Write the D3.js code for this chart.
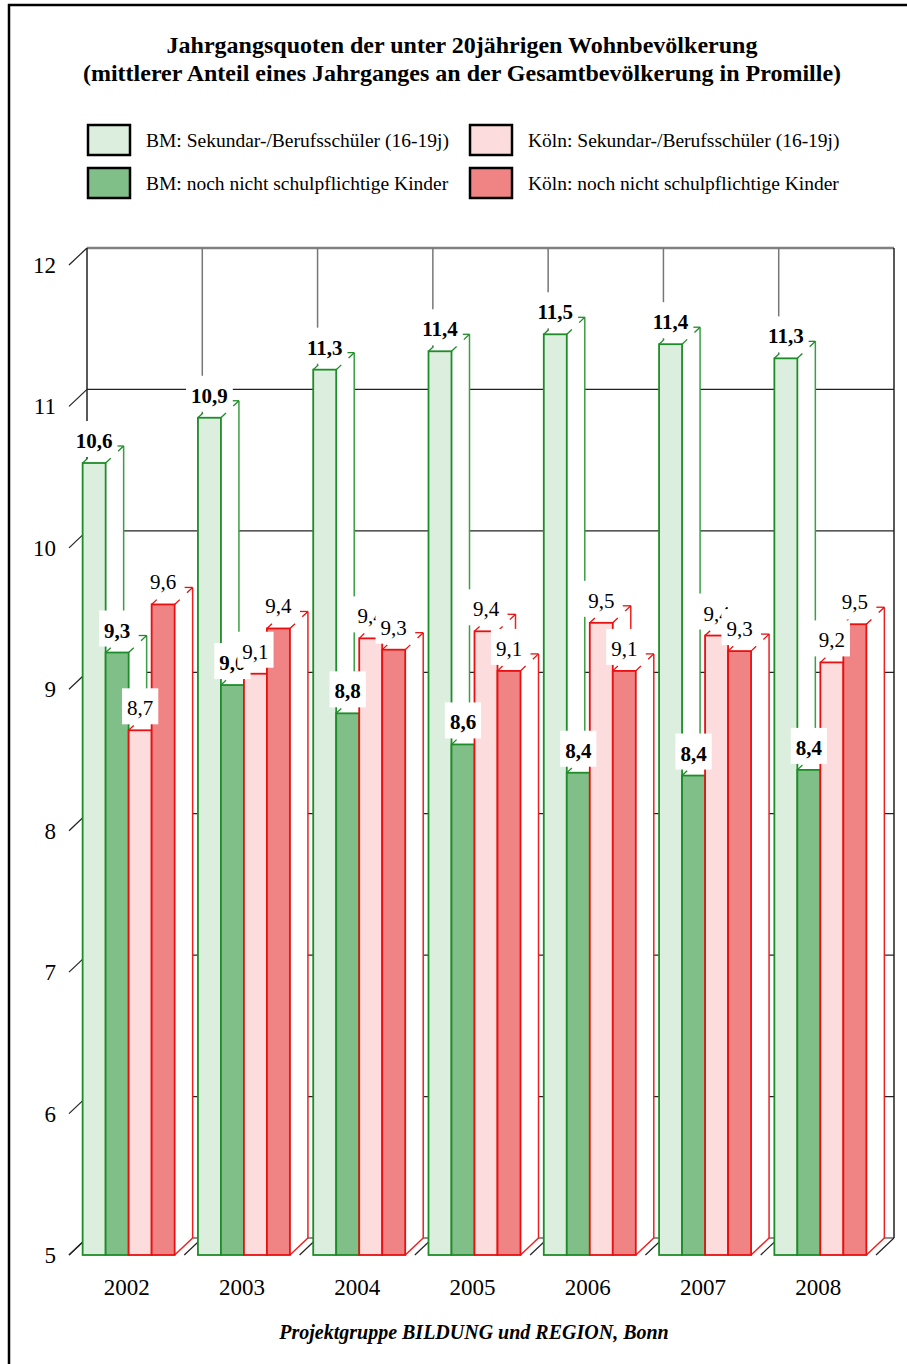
<!DOCTYPE html>
<html>
<head>
<meta charset="utf-8">
<script src="https://cdn.jsdelivr.net/npm/d3@7"></script>
<style>
  body { margin: 0; background: #fff; }
  svg { display: block; }
</style>
</head>
<body>
<div id="canvas"></div>
<script>
"use strict"

/* Data */
let years = ["2002", "2003", "2004", "2005", "2006", "2007", "2008"];
let bmSek = [10.60, 10.92, 11.26, 11.39, 11.51, 11.44, 11.34];
let bmKinder = [9.26, 9.03, 8.83, 8.61, 8.41, 8.39, 8.43];
let koelnSek = [8.71, 9.11, 9.36, 9.41, 9.47, 9.38, 9.19];
let koelnKinder = [9.60, 9.43, 9.28, 9.13, 9.13, 9.27, 9.46];
let seriesNames = [
    "BM: Sekundar-/Berufsschüler (16-19j)",
    "BM: noch nicht schulpflichtige Kinder",
    "Köln: Sekundar-/Berufsschüler (16-19j)",
    "Köln: noch nicht schulpflichtige Kinder"
];
let yTicks = [5, 6, 7, 8, 9, 10, 11, 12];

/* Configuration variables: drawing */
let svgWidth = 907;
let svgHeight = 1364;
let font = "'Liberation Serif', 'Times New Roman', serif";
let DX = 18, DY = -17;   // 3d depth offset

let series = [
    { name: seriesNames[0], values: bmSek, fill: "#dcefdf", stroke: "#1e8c28", side: "#3a9e44", bold: true },
    { name: seriesNames[1], values: bmKinder, fill: "#80c088", stroke: "#1e8c28", side: "#3a9e44", bold: true },
    { name: seriesNames[2], values: koelnSek, fill: "#fcdcdc", stroke: "#e81010", side: "#ee2020", bold: false },
    { name: seriesNames[3], values: koelnKinder, fill: "#f08484", stroke: "#e81010", side: "#ee2020", bold: false }
];

let svg = d3.select("#canvas")
    .append("svg")
    .attr("width", svgWidth)
    .attr("height", svgHeight);

/* outer frame (only left and top are in the picture) */
svg.append("rect")
    .attr("x", 9).attr("y", 5)
    .attr("width", 1000).attr("height", 1500)
    .attr("fill", "none")
    .attr("stroke", "black")
    .attr("stroke-width", 2.5);

/* title */
let title = svg.append("text")
    .attr("text-anchor", "middle")
    .attr("font-family", font)
    .attr("font-weight", "bold")
    .attr("font-size", 24);
title.append("tspan").attr("x", 462).attr("y", 53)
    .text("Jahrgangsquoten der unter 20jährigen Wohnbevölkerung");
title.append("tspan").attr("x", 462).attr("y", 81)
    .text("(mittlerer Anteil eines Jahrganges an der Gesamtbevölkerung in Promille)");

/* legend */
let legendPos = [[88, 125], [88, 168], [470, 125], [470, 168]];
series.forEach(function (s, i) {
    let p = legendPos[i];
    svg.append("rect")
        .attr("x", p[0]).attr("y", p[1])
        .attr("width", 42).attr("height", 30)
        .attr("fill", s.fill)
        .attr("stroke", "black")
        .attr("stroke-width", 2.5);
    svg.append("text")
        .attr("x", p[0] + 58).attr("y", p[1] + 22)
        .attr("font-family", font)
        .attr("font-size", 19.5)
        .text(s.name);
});

/* scales */
let x = d3.scaleBand()
    .domain(years)
    .range([69, 876]);

let xInner = d3.scaleBand()
    .domain(d3.range(series.length))
    .range([0, 92]);

let y = d3.scaleLinear()
    .domain([5, 12])
    .range([1255, 265]);

let xLeft = x.range()[0], xRight = x.range()[1];

/* back wall: horizontal gridlines */
let wall = svg.append("g");
wall.selectAll("line.grid")
    .data(yTicks)
    .join("line")
    .attr("x1", xLeft + DX).attr("x2", xRight + DX)
    .attr("y1", function (d) { return y(d) + DY; })
    .attr("y2", function (d) { return y(d) + DY; })
    .attr("stroke", function (d) { return d === 12 ? "#808080" : "#222"; })
    .attr("stroke-width", function (d) { return d === 12 ? 2.5 : 1.2; });

/* back wall: vertical lines at category boundaries */
let boundaries = years.map(function (d) { return x(d); }).concat([xRight]);
wall.selectAll("line.vert")
    .data(boundaries)
    .join("line")
    .attr("x1", function (d) { return d + DX; })
    .attr("x2", function (d) { return d + DX; })
    .attr("y1", y(12) + DY)
    .attr("y2", y(5) + DY)
    .attr("stroke", function (d, i) { return (i === 0 || i === boundaries.length - 1) ? "#222" : "#777"; })
    .attr("stroke-width", 1.5);

/* floor ticks at category boundaries */
wall.selectAll("line.floor")
    .data(boundaries)
    .join("line")
    .attr("x1", function (d) { return d; })
    .attr("x2", function (d) { return d + DX; })
    .attr("y1", y(5))
    .attr("y2", y(5) + DY)
    .attr("stroke", "#222")
    .attr("stroke-width", 1.2);

/* y axis: diagonal ticks and labels */
wall.selectAll("line.ytick")
    .data(yTicks)
    .join("line")
    .attr("x1", xLeft).attr("x2", xLeft + DX)
    .attr("y1", function (d) { return y(d); })
    .attr("y2", function (d) { return y(d) + DY; })
    .attr("stroke", "#222")
    .attr("stroke-width", 1.2);

svg.selectAll("text.ytick")
    .data(yTicks)
    .join("text")
    .attr("x", 56)
    .attr("y", function (d) { return y(d) + 8; })
    .attr("text-anchor", "end")
    .attr("font-family", font)
    .attr("font-size", 23)
    .text(function (d) { return d; });

/* bars, left to right so the next front face covers the previous side */
let bars = svg.append("g");
years.forEach(function (year, gi) {
    let gx = x(year) + x.bandwidth() / 2 - 44;
    series.forEach(function (s, si) {
        let x0 = gx + xInner(si);
        let x1 = x0 + xInner.bandwidth();
        let yt = y(s.values[gi]);
        let yb = y(5);
        let g = bars.append("g");

        /* side face */
        g.append("polygon")
            .attr("points", [[x1, yt], [x1 + DX, yt + DY], [x1 + DX, yb + DY], [x1, yb]].join(" "))
            .attr("fill", "white");
        g.append("line")
            .attr("x1", x1 + DX).attr("y1", yt + DY)
            .attr("x2", x1 + DX).attr("y2", yb + DY)
            .attr("stroke", s.side).attr("stroke-width", 1.5);
        g.append("line")
            .attr("x1", x1).attr("y1", yb)
            .attr("x2", x1 + DX).attr("y2", yb + DY)
            .attr("stroke", s.side).attr("stroke-width", 1.5);

        /* top face */
        g.append("polygon")
            .attr("points", [[x0, yt], [x0 + DX, yt + DY], [x1 + DX, yt + DY], [x1, yt]].join(" "))
            .attr("fill", "white");
        g.append("line")
            .attr("x1", x0).attr("y1", yt)
            .attr("x2", x0 + DX).attr("y2", yt + DY)
            .attr("stroke", s.stroke).attr("stroke-width", 1.3)
            .attr("stroke-dasharray", "7,100");
        g.append("line")
            .attr("x1", x1).attr("y1", yt)
            .attr("x2", x1 + DX).attr("y2", yt + DY)
            .attr("stroke", s.stroke).attr("stroke-width", 1.3)
            .attr("stroke-dasharray", "7,10,8");
        g.append("line")
            .attr("x1", x1 + DX - 8).attr("y1", yt + DY)
            .attr("x2", x1 + DX).attr("y2", yt + DY)
            .attr("stroke", s.stroke).attr("stroke-width", 1.3);

        /* front face */
        g.append("rect")
            .attr("x", x0).attr("y", yt)
            .attr("width", x1 - x0).attr("height", yb - yt)
            .attr("fill", s.fill)
            .attr("stroke", s.stroke)
            .attr("stroke-width", 1.8);
    });
});

/* value labels with white boxes, drawn last */
let fmt = function (v) { return v.toFixed(1).replace(".", ","); };
series.forEach(function (s, si) {
    years.forEach(function (year, gi) {
        let gx = x(year) + x.bandwidth() / 2 - 44;
        let cx = gx + xInner(si) + xInner.bandwidth() / 2;
        let base = y(s.values[gi]) - 15;
        let lg = svg.append("g");
        let box = lg.append("rect").attr("fill", "white");
        let t = lg.append("text")
            .attr("x", cx).attr("y", base)
            .attr("text-anchor", "middle")
            .attr("font-family", font)
            .attr("font-size", 21)
            .attr("font-weight", s.bold ? "bold" : "normal")
            .text(fmt(s.values[gi]));
        let w = t.node().getComputedTextLength();
        box.attr("x", cx - w / 2 - 5).attr("y", base - 27)
            .attr("width", w + 10).attr("height", 36);
    });
});

/* category labels */
svg.selectAll("text.year")
    .data(years)
    .join("text")
    .attr("x", function (d) { return x(d) + x.bandwidth() / 2; })
    .attr("y", 1295)
    .attr("text-anchor", "middle")
    .attr("font-family", font)
    .attr("font-size", 23)
    .text(function (d) { return d; });

/* source */
svg.append("text")
    .attr("x", 474).attr("y", 1339)
    .attr("text-anchor", "middle")
    .attr("font-family", font)
    .attr("font-size", 20)
    .attr("font-weight", "bold")
    .attr("font-style", "italic")
    .text("Projektgruppe BILDUNG und REGION, Bonn");
</script>
</body>
</html>
